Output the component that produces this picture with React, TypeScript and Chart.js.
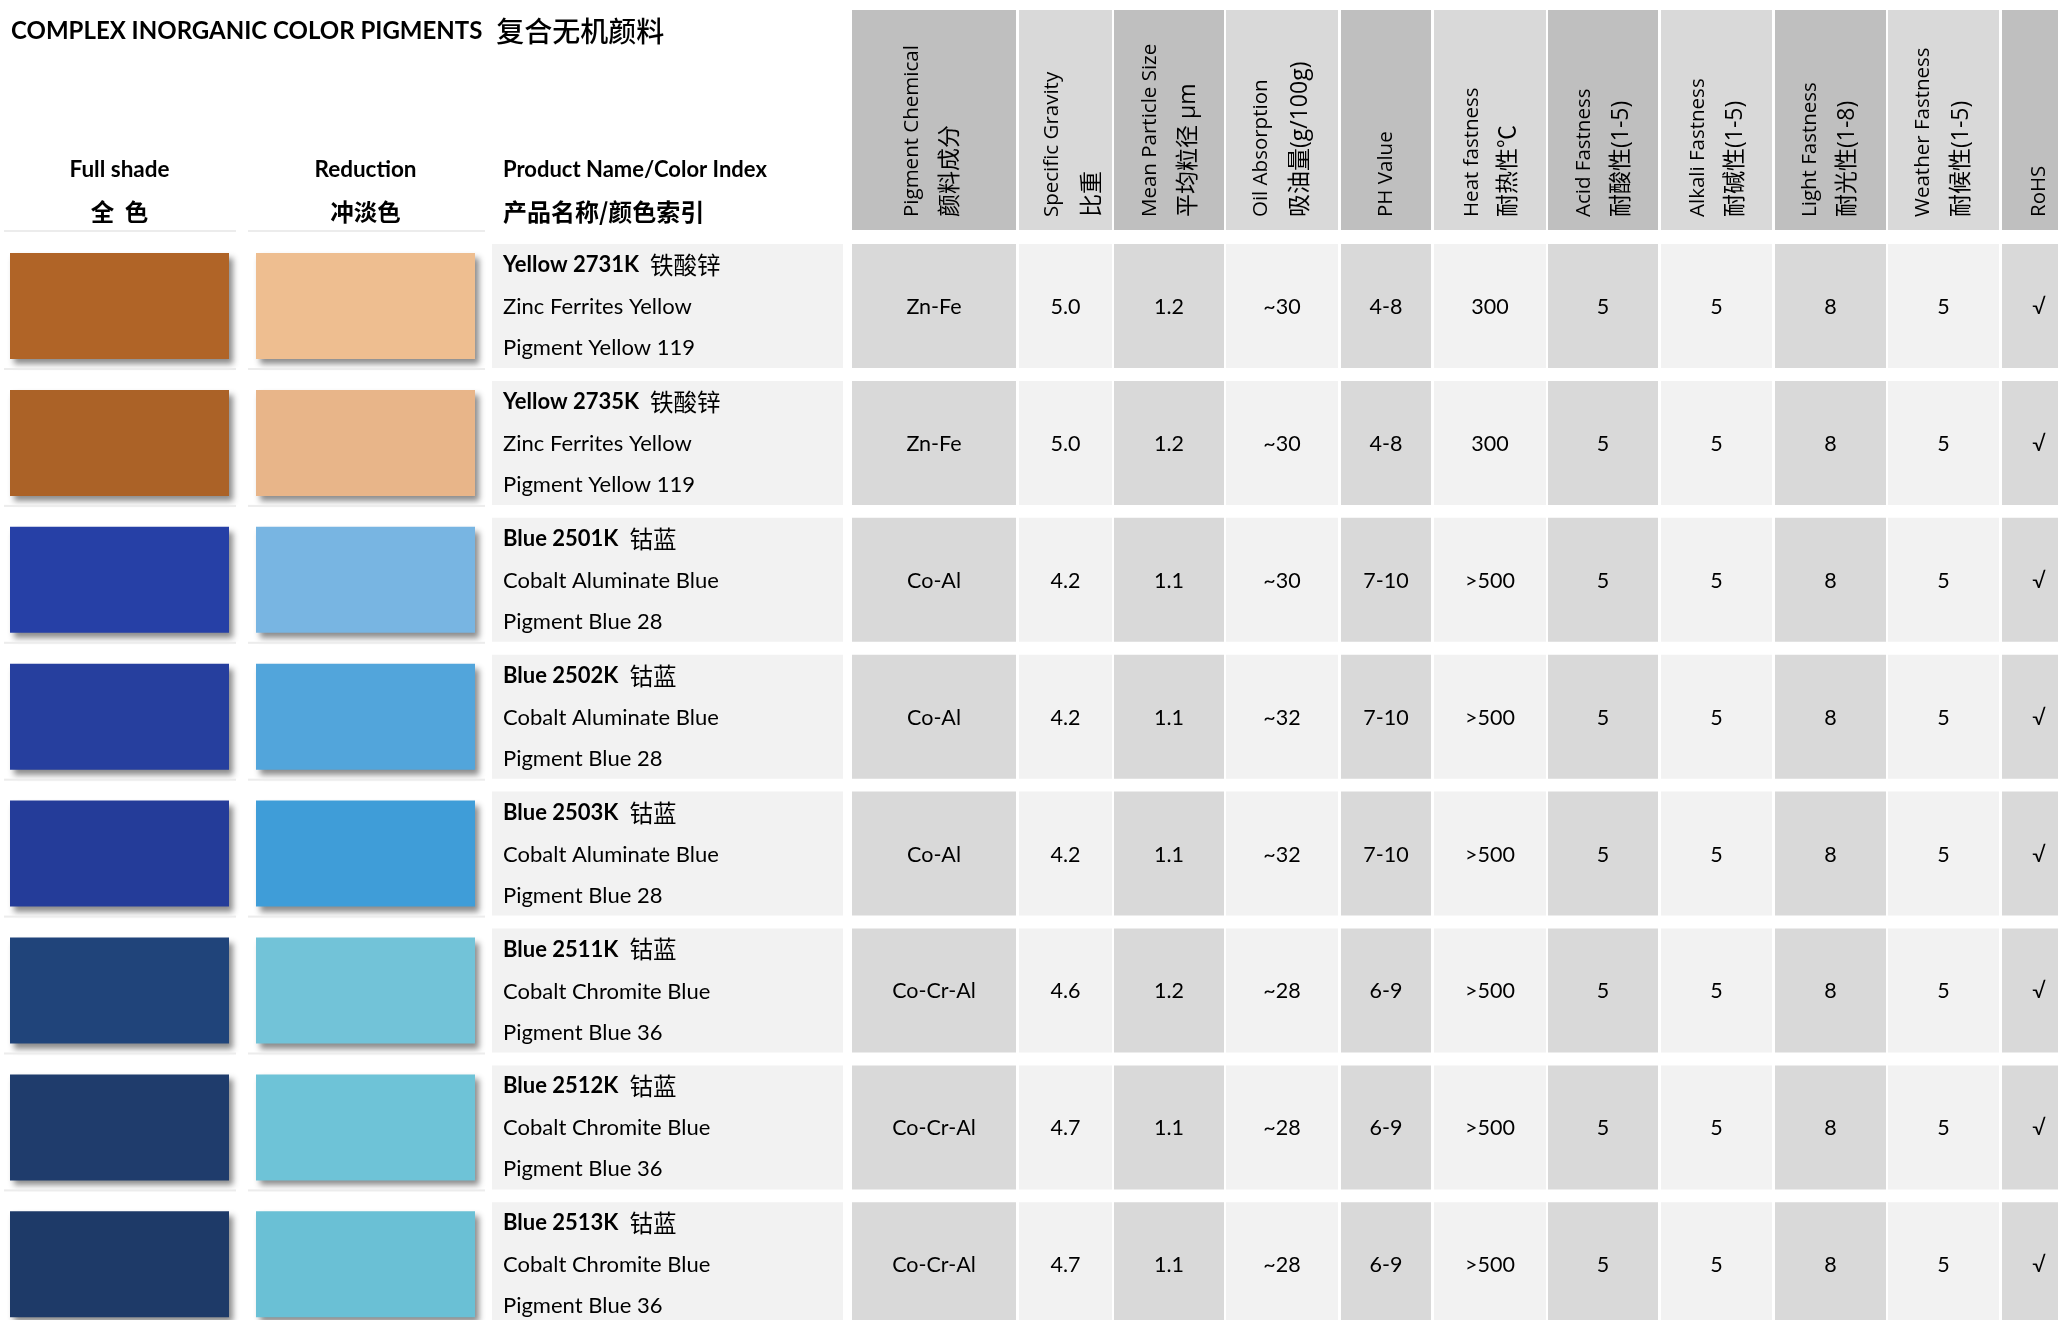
import React, { useEffect, useRef } from 'react';
import { Chart, registerables } from 'chart.js';

Chart.register(...registerables);

// ---------------- DATA ----------------
const TITLE_EN = 'COMPLEX INORGANIC COLOR PIGMENTS';
const TITLE_CN = '复合无机颜料';

const LEFT_HEAD_EN = ['Full shade', 'Reduction', 'Product Name/Color Index'];
const LEFT_HEAD_CN = ['全  色', '冲淡色', '产品名称/颜色索引'];

const PRODUCT_CODES = ['Yellow 2731K', 'Yellow 2735K', 'Blue 2501K', 'Blue 2502K', 'Blue 2503K', 'Blue 2511K', 'Blue 2512K', 'Blue 2513K'];
const PRODUCT_CN = ['铁酸锌', '铁酸锌', '钴蓝', '钴蓝', '钴蓝', '钴蓝', '钴蓝', '钴蓝'];
const PRODUCT_NAMES = ['Zinc Ferrites Yellow', 'Zinc Ferrites Yellow', 'Cobalt Aluminate Blue', 'Cobalt Aluminate Blue', 'Cobalt Aluminate Blue', 'Cobalt Chromite Blue', 'Cobalt Chromite Blue', 'Cobalt Chromite Blue'];
const COLOR_INDEX = ['Pigment Yellow 119', 'Pigment Yellow 119', 'Pigment Blue 28', 'Pigment Blue 28', 'Pigment Blue 28', 'Pigment Blue 36', 'Pigment Blue 36', 'Pigment Blue 36'];

const FULL_SHADE = ['#b06427', '#ab6227', '#2640a6', '#263f9e', '#243c99', '#20447a', '#1f3c6c', '#1e3a68'];
const REDUCTION = ['#eebe90', '#e8b589', '#78b5e2', '#52a5db', '#3f9dd8', '#72c3d8', '#6ec3d7', '#6ac0d5'];

const HEADER_EN = ['Pigment Chemical', 'Specific Gravity', 'Mean Particle Size', 'Oil Absorption', 'PH Value', 'Heat fastness', 'Acid Fastness', 'Alkali Fastness', 'Light Fastness', 'Weather Fastness', 'RoHS'];
const HEADER_CN = ['颜料成分', '比重', '平均粒径 μm', '吸油量(g/100g)', '', '耐热性℃', '耐酸性(1-5)', '耐碱性(1-5)', '耐光性(1-8)', '耐候性(1-5)', ''];

const CHEMICAL = ['Zn-Fe', 'Zn-Fe', 'Co-Al', 'Co-Al', 'Co-Al', 'Co-Cr-Al', 'Co-Cr-Al', 'Co-Cr-Al'];
const SPECIFIC_GRAVITY = ['5.0', '5.0', '4.2', '4.2', '4.2', '4.6', '4.7', '4.7'];
const PARTICLE_SIZE = ['1.2', '1.2', '1.1', '1.1', '1.1', '1.2', '1.1', '1.1'];
const OIL_ABSORPTION = ['~30', '~30', '~30', '~32', '~32', '~28', '~28', '~28'];
const PH_VALUE = ['4-8', '4-8', '7-10', '7-10', '7-10', '6-9', '6-9', '6-9'];
const HEAT_FASTNESS = ['300', '300', '>500', '>500', '>500', '>500', '>500', '>500'];
const ACID_FASTNESS = ['5', '5', '5', '5', '5', '5', '5', '5'];
const ALKALI_FASTNESS = ['5', '5', '5', '5', '5', '5', '5', '5'];
const LIGHT_FASTNESS = ['8', '8', '8', '8', '8', '8', '8', '8'];
const WEATHER_FASTNESS = ['5', '5', '5', '5', '5', '5', '5', '5'];
const ROHS = ['√', '√', '√', '√', '√', '√', '√', '√'];

const VALUE_COLUMNS = [CHEMICAL, SPECIFIC_GRAVITY, PARTICLE_SIZE, OIL_ABSORPTION, PH_VALUE, HEAT_FASTNESS, ACID_FASTNESS, ALKALI_FASTNESS, LIGHT_FASTNESS, WEATHER_FASTNESS, ROHS];

// ---------------- LAYOUT ----------------
const W = 2058;
const H = 1320;
const PITCH = 136.9; // px per row
const ROW0_CENTER = 306;
const HEADER_CENTER = 120;
const CELL_H = 124;
const HEADER_H = 220;
const SWATCH_H = 106;
const Y_MIN = -ROW0_CENTER / PITCH;
const Y_MAX = (H - ROW0_CENTER) / PITCH;
const HEADER_Y = (HEADER_CENTER - ROW0_CENTER) / PITCH;

const COL_EDGES: [number, number][] = [[852, 1016], [1019, 1112], [1114, 1224], [1226, 1338], [1341, 1431], [1434, 1546], [1548, 1658], [1661, 1772], [1775, 1886], [1888, 1999], [2002, 2076]];
const HEADER_LINE_OFFSETS: [number, number][] = [[-22, 16], [-13, 27], [-19, 19], [-21, 18], [0, 0], [-18, 18], [-19, 18], [-18, 19], [-20, 17], [-20, 18], [0, 0]];
const PRODUCT_X: [number, number] = [492, 843];
const FULL_X: [number, number] = [10, 229];
const RED_X: [number, number] = [256, 475];

const DARK_CELL = '#d9d9d9';
const LIGHT_CELL = '#f2f2f2';
const DARK_HEAD = '#bfbfbf';
const LIGHT_HEAD = '#d9d9d9';

const LATIN = '"Lato", "Noto Sans CJK SC", sans-serif';
const HEAD_FONT = '"Open Sans", "Noto Sans CJK SC", sans-serif';
const CJK = '"Noto Sans CJK SC", sans-serif';

const rows = PRODUCT_CODES.map((_, i) => i);

const shadowPlugin = {
  id: 'swatchShadow',
  beforeDatasetDraw(chart: any, args: any) {
    const ds = chart.data.datasets[args.index];
    if (!ds.shadow) return;
    const ctx = chart.ctx;
    ctx.save();
    ctx.shadowColor = 'rgba(0,0,0,0.45)';
    ctx.shadowBlur = 6;
    ctx.shadowOffsetX = 4;
    ctx.shadowOffsetY = 5;
  },
  afterDatasetDraw(chart: any, args: any) {
    const ds = chart.data.datasets[args.index];
    if (!ds.shadow) return;
    chart.ctx.restore();
  },
};

const textPlugin = {
  id: 'tableText',
  afterDatasetsDraw(chart: any) {
    const ctx = chart.ctx as CanvasRenderingContext2D;
    const xs = chart.scales.x;
    const ys = chart.scales.y;
    const px = (v: number) => xs.getPixelForValue(v);
    const py = (v: number) => ys.getPixelForValue(v);
    ctx.save();
    ctx.textBaseline = 'middle';

    // separators under swatch columns
    ctx.fillStyle = '#ececec';
    const sepYs = [py(HEADER_Y) + HEADER_H / 2, ...rows.map((r) => py(r) + CELL_H / 2)];
    sepYs.forEach((y) => {
      ctx.fillRect(px(4), y, px(236) - px(4), 2);
      ctx.fillRect(px(248), y, px(485) - px(248), 2);
    });
    ctx.fillStyle = '#000';

    // title
    const hy = py(HEADER_Y);
    ctx.textAlign = 'left';
    ctx.font = `bold 24px ${LATIN}`;
    ctx.fillText(TITLE_EN, px(11), hy - 89);
    const tw = ctx.measureText(TITLE_EN).width;
    ctx.font = `500 28px ${CJK}`;
    ctx.fillText(TITLE_CN, px(11) + tw + 14, hy - 89);

    // left headers
    const leftCenters = [(FULL_X[0] + FULL_X[1]) / 2, (RED_X[0] + RED_X[1]) / 2];
    ctx.textAlign = 'center';
    leftCenters.forEach((c, i) => {
      ctx.font = `bold 22.5px ${LATIN}`;
      ctx.fillText(LEFT_HEAD_EN[i], px(c), hy + 50);
      ctx.font = `bold 23.5px ${CJK}`;
      ctx.fillText(LEFT_HEAD_CN[i], px(c), hy + 92);
    });
    ctx.textAlign = 'left';
    ctx.font = `bold 22px ${LATIN}`;
    ctx.fillText(LEFT_HEAD_EN[2], px(PRODUCT_X[0] + 11), hy + 50);
    ctx.font = `bold 24px ${CJK}`;
    ctx.fillText(LEFT_HEAD_CN[2], px(PRODUCT_X[0] + 11), hy + 92);

    // rotated column headers
    const headBottom = hy + HEADER_H / 2 - 13;
    COL_EDGES.forEach(([a, b], c) => {
      const cx = px((a + b) / 2);
      const [o1, o2] = HEADER_LINE_OFFSETS[c];
      const lines: [string, number, string][] = HEADER_CN[c]
        ? [[HEADER_EN[c], o1, `20.5px ${HEAD_FONT}`], [HEADER_CN[c], o2, `23px ${HEAD_FONT}`]]
        : [[HEADER_EN[c], 0, `20.5px ${HEAD_FONT}`]];
      lines.forEach(([t, o, f]) => {
        ctx.save();
        ctx.translate(cx + o, headBottom);
        ctx.rotate(-Math.PI / 2);
        ctx.font = f;
        ctx.textAlign = 'left';
        ctx.fillText(t, 0, 0);
        ctx.restore();
      });
    });

    // product text
    rows.forEach((r) => {
      const y = py(r);
      const x0 = px(PRODUCT_X[0] + 11);
      ctx.textAlign = 'left';
      ctx.font = `bold 22px ${LATIN}`;
      ctx.fillText(PRODUCT_CODES[r], x0, y - 41);
      const w = ctx.measureText(PRODUCT_CODES[r]).width;
      ctx.font = `23.5px ${CJK}`;
      ctx.fillText(PRODUCT_CN[r], x0 + w + 11, y - 41);
      ctx.font = `22px ${LATIN}`;
      ctx.fillText(PRODUCT_NAMES[r], x0, y + 1);
      ctx.fillText(COLOR_INDEX[r], x0, y + 42);
    });

    // values
    ctx.textAlign = 'center';
    ctx.font = `21.5px ${LATIN}`;
    VALUE_COLUMNS.forEach((col, c) => {
      const [a, b] = COL_EDGES[c];
      const cx = px(c === COL_EDGES.length - 1 ? 2039 : (a + b) / 2);
      col.forEach((v, r) => {
        ctx.fillText(v, cx, py(r) + 1);
      });
    });
    ctx.restore();
  },
};

export default function App() {
  const ref = useRef<HTMLCanvasElement>(null);
  useEffect(() => {
    const canvas = ref.current!;
    const headerData = COL_EDGES.map((e) => ({ x: e, y: HEADER_Y }));
    const headerColors = COL_EDGES.map((_, c) => (c % 2 === 0 ? DARK_HEAD : LIGHT_HEAD));
    const bodyData: any[] = [];
    const bodyColors: string[] = [];
    rows.forEach((r) => {
      COL_EDGES.forEach((e, c) => {
        bodyData.push({ x: e, y: r });
        bodyColors.push(c % 2 === 0 ? DARK_CELL : LIGHT_CELL);
      });
    });
    const common = { grouped: false, borderWidth: 0, categoryPercentage: 1, inflateAmount: 0 };
    const chart = new Chart(canvas, {
      type: 'bar',
      data: {
        datasets: [
          { ...common, label: 'header', data: headerData, backgroundColor: headerColors, barPercentage: HEADER_H / PITCH } as any,
          { ...common, label: 'cells', data: bodyData, backgroundColor: bodyColors, barPercentage: CELL_H / PITCH } as any,
          { ...common, label: 'product', data: rows.map((r) => ({ x: PRODUCT_X, y: r })), backgroundColor: LIGHT_CELL, barPercentage: CELL_H / PITCH } as any,
          { ...common, label: 'full shade', shadow: true, data: rows.map((r) => ({ x: FULL_X, y: r })), backgroundColor: FULL_SHADE, barPercentage: SWATCH_H / PITCH } as any,
          { ...common, label: 'reduction', shadow: true, data: rows.map((r) => ({ x: RED_X, y: r })), backgroundColor: REDUCTION, barPercentage: SWATCH_H / PITCH } as any,
        ],
      },
      options: {
        indexAxis: 'y',
        animation: false,
        responsive: false,
        devicePixelRatio: 1,
        events: [],
        layout: { padding: 0 },
        plugins: { legend: { display: false }, tooltip: { enabled: false } },
        scales: {
          x: { type: 'linear', min: 0, max: W, display: false, offset: false },
          y: { type: 'linear', min: Y_MIN, max: Y_MAX, reverse: true, display: false, offset: false, ticks: { stepSize: 100, includeBounds: false } },
        },
      } as any,
      plugins: [shadowPlugin, textPlugin],
    });
    return () => chart.destroy();
  }, []);
  return (
    <div style={{ position: 'fixed', left: 0, top: 0, width: W, height: H, background: '#ffffff' }}>
      <canvas ref={ref} width={W} height={H} style={{ width: W, height: H, display: 'block' }} />
    </div>
  );
}
